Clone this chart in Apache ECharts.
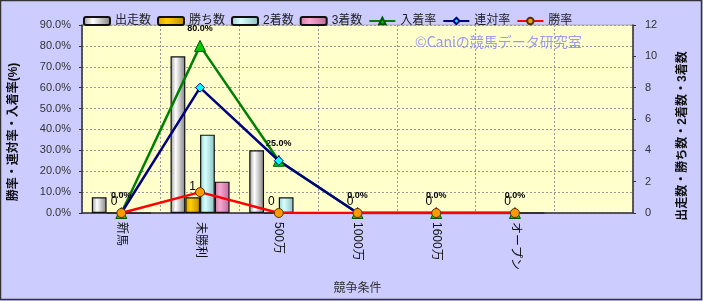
<!DOCTYPE html>
<html><head><meta charset="utf-8">
<script src="https://cdn.jsdelivr.net/npm/echarts@6/dist/echarts.min.js"></script>
<style>html,body{margin:0;padding:0;background:#ccccff;}#c{width:703px;height:301px;}</style>
</head><body><div id="c"></div>
<script>
const categories = ['新馬','未勝利','500万','1000万','1600万','オープン',''];
const runs = [1,10,4,0,0,0,null];
const wins = [0,1,0,0,0,0,null];
const seconds = [0,5,1,0,0,0,null];
const thirds = [0,2,0,0,0,0,null];
const placeRate = [0,80,25,0,0,0,null];
const rentaiRate = [0,60,25,0,0,0,null];
const winRate = [0,10,0,0,0,0,null];
const leftTicks = [0,10,20,30,40,50,60,70,80,90];
const rightTicks = [0,2,4,6,8,10,12];

const FONT = "'Liberation Sans', 'Noto Sans CJK JP', sans-serif";
function grad(c1, c2, c3){
  return {type:'linear',x:0,y:0,x2:1,y2:0,colorStops:[{offset:0,color:c1},{offset:0.35,color:c2},{offset:1,color:c3}]};
}
const chart = echarts.init(document.getElementById('c'), null, {renderer:'canvas'});
const barBase = {type:'bar', yAxisIndex:1, barGap:'0%', barCategoryGap:'25%'};
chart.setOption({
  animation:false,
  backgroundColor:'#ccccff',
  textStyle:{fontFamily:FONT},
  graphic:[
    {type:'rect', shape:{x:0.5,y:0.5,width:701,height:299}, style:{fill:null, stroke:'#333', lineWidth:1.5}, silent:true},
    {type:'text', left:415, top:35, z:1, style:{text:'©Caniの競馬データ研究室', fill:'#9a9aee', font:"14px 'Noto Sans CJK JP', sans-serif"}}
  ],
  legend:{
    left:78, top:10, itemWidth:26, itemHeight:8, itemGap:6,
    textStyle:{fontSize:12, color:'#222', fontFamily:FONT},
    data:['出走数','勝ち数','2着数','3着数','入着率','連対率','勝率']
  },
  grid:{left:77, right:70, top:25, bottom:88, show:true, backgroundColor:'#ffffcc', borderColor:'#aaa', borderWidth:1},
  xAxis:{
    type:'category', data:categories, boundaryGap:true,
    name:'競争条件', nameLocation:'middle', nameGap:70,
    nameTextStyle:{fontSize:12, color:'#333', fontFamily:FONT},
    axisLine:{show:true, lineStyle:{color:'#333', width:1.5}},
    axisTick:{show:false},
    axisLabel:{rotate:-90, fontSize:12, color:'#111', margin:9, fontFamily:FONT, interval:0, verticalAlign:'middle'},
    splitLine:{show:true, lineStyle:{color:'#999', type:[2,2], width:1}}
  },
  yAxis:[
    {type:'value', min:leftTicks[0], max:leftTicks[leftTicks.length-1], interval:10, position:'left',
     name:'勝率・連対率・入着率(%)', nameLocation:'middle', nameRotate:90, nameGap:62,
     nameTextStyle:{fontSize:12, fontWeight:'bold', color:'#111', fontFamily:FONT, padding:[0,26,0,0]},
     axisLine:{show:true, lineStyle:{color:'#333', width:1.5}},
     axisTick:{show:true, length:3, lineStyle:{color:'#333'}},
     axisLabel:{fontSize:11, color:'#333', margin:11, formatter:v=>v.toFixed(1)+'%'},
     splitLine:{show:true, lineStyle:{color:'#999', type:[2,2], width:1}}},
    {type:'value', min:rightTicks[0], max:rightTicks[rightTicks.length-1], interval:2, position:'right',
     name:'出走数・勝ち数・2着数・3着数', nameLocation:'middle', nameRotate:90, nameGap:44,
     nameTextStyle:{fontSize:12, fontWeight:'bold', color:'#111', fontFamily:FONT, padding:[0,34,0,0]},
     axisLine:{show:true, lineStyle:{color:'#333', width:1.5}},
     axisTick:{show:true, length:3, lineStyle:{color:'#333'}},
     axisLabel:{fontSize:11, color:'#333', margin:12},
     splitLine:{show:false}}
  ],
  series:[
    Object.assign({}, barBase, {name:'出走数', data:runs,
      itemStyle:{color:grad('#9a9a9a','#ffffff','#808080'), borderColor:'#111', borderWidth:1.2}}),
    Object.assign({}, barBase, {name:'勝ち数', data:wins,
      itemStyle:{color:grad('#d89c00','#ffd000','#c08800'), borderColor:'#111', borderWidth:1.2},
      label:{show:true, position:'top', distance:5, fontSize:12, color:'#000', fontFamily:FONT}}),
    Object.assign({}, barBase, {name:'2着数', data:seconds,
      itemStyle:{color:grad('#99d0d0','#d8ffff','#88c0c0'), borderColor:'#111', borderWidth:1.2}}),
    Object.assign({}, barBase, {name:'3着数', data:thirds,
      itemStyle:{color:grad('#d07aa8','#f5a8d0','#c06898'), borderColor:'#111', borderWidth:1.2}}),
    {name:'入着率', type:'line', yAxisIndex:0, data:placeRate, symbol:'triangle', symbolSize:11,
      lineStyle:{color:'#008000', width:2.5}, itemStyle:{color:'#00cc00', borderColor:'#005500', borderWidth:1},
      label:{show:true, position:'top', distance:7, fontSize:9, fontWeight:'bold', color:'#000',
        fontFamily:FONT, formatter:p=>p.value.toFixed(1)+'%'}},
    {name:'連対率', type:'line', yAxisIndex:0, data:rentaiRate, symbol:'diamond', symbolSize:9,
      lineStyle:{color:'#000080', width:2.5}, itemStyle:{color:'#00ffff', borderColor:'#000080', borderWidth:1}},
    {name:'勝率', type:'line', yAxisIndex:0, data:winRate, symbol:'circle', symbolSize:9,
      lineStyle:{color:'#ff0000', width:2.5}, itemStyle:{color:'#ff9900', borderColor:'#553300', borderWidth:1}}
  ]
});
</script></body></html>
